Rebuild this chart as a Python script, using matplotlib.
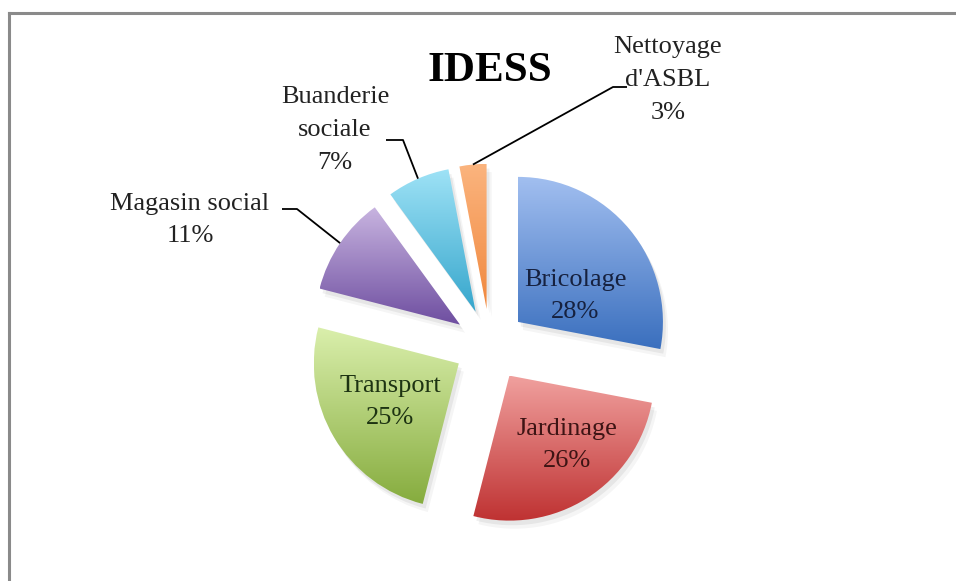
import numpy as np
import matplotlib.pyplot as plt
from matplotlib.colors import LinearSegmentedColormap
from matplotlib.patches import Wedge
from matplotlib.lines import Line2D

# data
labels = ["Bricolage", "Jardinage", "Transport", "Magasin social",
          "Buanderie sociale", "Nettoyage d'ASBL"]
values = [28, 26, 25, 11, 7, 3]
title = "IDESS"

# style: light colour at the top of each slice, dark at the bottom
top_colors = ["#a2bff0", "#f0a09e", "#daefac", "#c8b4e0", "#9ee2f6", "#fbb47e"]
bottom_colors = ["#3a6fbe", "#bf3232", "#86ac3e", "#6e4ea0", "#36a6cc", "#f0883e"]
text_colors = ["#16213f", "#3d1414", "#1d3312"]

# pie placement in pixels
W, H = 956, 581
cx, cy, r_px = 490, 345, 145


def px(x, y):
    # pixel position -> data units (radius = 1)
    return (x - cx) / r_px, (cy - y) / r_px


plt.rcParams['font.family'] = ['Liberation Serif', 'DejaVu Serif']

fig = plt.figure(figsize=(W / 100, H / 100), dpi=100)
ax = fig.add_axes([0, 0, 1, 1])

wedges, _ = ax.pie(values, startangle=90, counterclock=False,
                   explode=[0.25] * len(values), radius=1,
                   wedgeprops=dict(facecolor='none', edgecolor='none'))

grad = np.linspace(0, 1, 256).reshape(-1, 1)
for i, w in enumerate(wedges):
    # soft shadow
    for k, a in [(0.035, 0.04), (0.02, 0.06)]:
        sh = Wedge((w.center[0] + k, w.center[1] - 1.6 * k), w.r,
                   w.theta1, w.theta2, facecolor='#000000', alpha=a,
                   edgecolor='none', zorder=0.5)
        ax.add_patch(sh)
    ext = w.get_path().get_extents()
    cmap = LinearSegmentedColormap.from_list(
        f"c{i}", [top_colors[i], bottom_colors[i]])
    im = ax.imshow(grad, extent=(ext.x0, ext.x1, ext.y0, ext.y1),
                   origin='upper', cmap=cmap, aspect='auto',
                   interpolation='bilinear', zorder=1)
    im.set_clip_path(w)

fs = 19
ls = 1.62

# labels inside the big slices
inside_pos = [px(575, 296), px(567, 445), px(390, 402)]
for i, pos in enumerate(inside_pos):
    ax.text(pos[0], pos[1], f"{labels[i]}\n{values[i]}%", ha='center',
            va='center', fontsize=fs, color=text_colors[i],
            linespacing=ls, zorder=3)

# outside labels with leader lines: text centre, elbow, end of the arm
outside = {
    3: ("Magasin social", px(190, 220), px(297, 209), px(282, 209)),
    4: ("Buanderie\nsociale", px(335, 130), px(403, 140), px(386, 140)),
    5: ("Nettoyage\nd'ASBL", px(668, 80), px(613, 87), px(627, 87)),
}
for i, (txt, tpos, elbow, end) in outside.items():
    w = wedges[i]
    mid = np.deg2rad((w.theta1 + w.theta2) / 2)
    anchor = (w.center[0] + w.r * np.cos(mid), w.center[1] + w.r * np.sin(mid))
    ax.plot([anchor[0], elbow[0], end[0]], [anchor[1], elbow[1], end[1]],
            color='black', lw=1.3, zorder=3, solid_capstyle='butt')
    ax.text(tpos[0], tpos[1], f"{txt}\n{values[i]}%", ha='center',
            va='center', fontsize=fs, color='#222222', linespacing=ls,
            zorder=3)

tx, ty = px(490, 71)
ax.text(tx, ty, title, ha='center', va='center', fontsize=31,
        fontweight='bold', color='black')

ax.set_xlim(-cx / r_px, (W - cx) / r_px)
ax.set_ylim(-(H - cy) / r_px, cy / r_px)
ax.set_aspect('auto')
ax.axis('off')

# chart frame (only top and left edges fall inside the picture)
fig.add_artist(Line2D([9 / W, 1], [1 - 13 / H] * 2, transform=fig.transFigure,
                      color='#8a8a8a', lw=2.2))
fig.add_artist(Line2D([9 / W] * 2, [0, 1 - 13 / H], transform=fig.transFigure,
                      color='#8a8a8a', lw=2.2))

fig.savefig("out.png", dpi=100, facecolor='white')
